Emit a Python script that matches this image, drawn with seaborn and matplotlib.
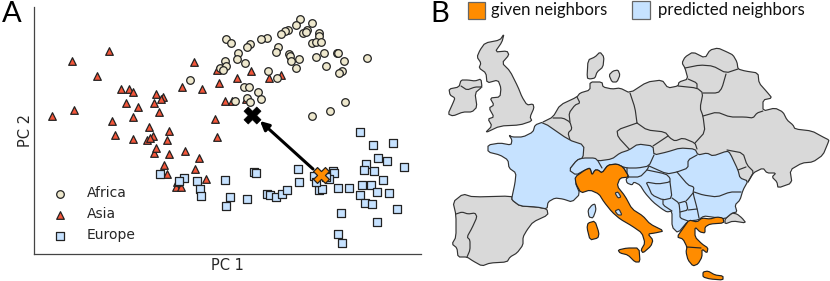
import numpy as np
import pandas as pd
import matplotlib.pyplot as plt
from matplotlib.patches import Rectangle
import seaborn as sns

# --- data, in image pixels (y goes down) ---
africa_x = [190, 226, 231, 300, 312, 296, 288, 285, 281, 303, 307, 306, 319, 319, 312, 316, 321, 267, 261, 250, 247,
            278, 276, 238, 237, 225, 245, 289, 290, 291, 299, 296, 316, 324, 337, 338, 344, 367, 326, 342, 339, 268,
            277, 220, 226, 223, 244, 249, 258, 261, 235, 247, 250, 345, 330, 312]
africa_y = [80, 39, 43, 19, 23, 25, 30, 31, 34, 33, 30, 32, 33, 36, 43, 42, 42, 38, 39, 44, 47,
            47, 52, 53, 59, 61, 63, 54, 56, 61, 59, 68, 57, 53, 53, 53, 61, 58, 66, 71, 73, 71,
            78, 68, 66, 70, 87, 87, 92, 99, 101, 98, 102, 102, 111, 116]

asia_x = [109, 72, 194, 97, 182, 202, 121, 129, 133, 156, 163, 161, 126, 154, 138, 159, 74, 52, 133, 112, 149, 169,
          115, 133, 147, 153, 150, 167, 185, 154, 156, 169, 199, 164, 195, 167, 206, 176, 181, 177,
          217, 251, 237, 219, 269, 281, 225, 232, 246, 215, 217]
asia_y = [51, 61, 62, 76, 87, 89, 89, 89, 92, 94, 97, 99, 103, 103, 107, 112, 110, 116, 117, 121, 127, 131,
          135, 139, 140, 136, 138, 140, 151, 153, 148, 154, 158, 165, 169, 174, 179, 187, 187, 182,
          70, 71, 78, 83, 78, 75, 101, 101, 99, 119, 137]

europe_x = [360, 373, 393, 378, 387, 366, 364, 374, 404, 383, 362, 371, 377, 389, 360, 365, 372, 397, 341, 377, 338,
            342, 338, 349, 319, 322, 333, 334, 329, 326, 314, 316, 298, 299, 254, 256, 225, 230, 226, 247, 267, 270,
            276, 282, 287, 160, 184, 179, 197, 200, 201]
europe_y = [132, 145, 143, 158, 161, 164, 170, 171, 167, 180, 185, 185, 192, 193, 195, 203, 204, 209, 213, 222, 234,
            243, 188, 188, 190, 189, 171, 173, 179, 177, 176, 182, 169, 182, 172, 173, 180, 197, 206, 199, 194, 195,
            197, 194, 190, 174, 178, 181, 181, 189, 196]

query_x, query_y = [321], [175]
pred_x, pred_y = [252], [115]

# --- map outlines, same pixels ---
uk = [(504, 34), (500, 40), (485, 43), (480, 50), (477, 57), (481, 63), (479, 68), (486, 73), (487, 83), (498, 80),
      (501, 88), (500, 97), (490, 98), (494, 105), (489, 108), (494, 117), (488, 119), (492, 126), (485, 133),
      (500, 126), (520, 125), (532, 121), (530, 117), (534, 108), (533, 104), (527, 105), (522, 97), (518, 87),
      (510, 71), (502, 63), (509, 55), (507, 51), (495, 52), (502, 42)]
ireland = [(449, 89), (459, 87), (461, 80), (468, 80), (475, 81), (481, 79), (482, 87), (475, 93), (477, 107),
           (472, 112), (463, 112), (453, 116), (448, 114), (453, 103), (455, 98), (450, 95)]
n_ireland = [(461, 86), (467, 90), (475, 87), (482, 87)]
denmark = [(587, 78), (588, 60), (595, 57), (600, 52), (604, 57), (603, 67), (597, 72), (595, 78), (590, 79)]
zealand = [(609, 75), (613, 71), (618, 70), (620, 75), (617, 82), (612, 82)]
iberia = [(453, 202), (463, 194), (473, 197), (512, 196), (512, 200), (520, 206), (537, 207), (547, 209), (548, 215),
          (533, 222), (527, 230), (523, 237), (523, 245), (517, 253), (510, 257), (507, 262), (490, 263), (482, 266),
          (473, 261), (467, 257), (458, 257), (457, 248), (452, 244), (456, 237), (456, 215)]
portugal_border = [(456, 214), (462, 212), (468, 214), (475, 213), (477, 217), (472, 228), (467, 237), (470, 240),
                   (470, 250), (467, 257)]
north_coast = [(543, 122), (553, 117), (560, 105), (577, 97), (580, 93), (590, 90), (590, 82), (602, 82), (603, 87),
               (612, 89), (620, 88), (630, 93), (647, 82), (662, 80), (668, 88), (678, 86), (679, 82), (688, 79),
               (685, 68), (682, 63), (685, 57), (693, 52), (705, 58), (710, 50), (718, 48), (727, 52), (733, 55),
               (737, 62), (738, 69), (745, 71), (758, 73), (759, 83), (767, 92), (772, 98), (763, 100), (763, 111),
               (775, 108), (783, 112), (787, 120), (793, 125), (795, 129), (812, 131), (823, 137), (829, 140),
               (828, 143), (823, 155), (813, 162), (802, 163), (790, 170), (792, 183), (778, 188), (777, 182),
               (772, 177), (776, 173), (767, 173), (763, 168), (753, 173), (748, 182)]
# where the grey fill closes, all of it under the blue countries
land_closure = [(700, 175), (640, 165), (600, 165), (575, 165), (570, 145)]
thrace = [(725, 219), (732, 213), (737, 214), (742, 218), (746, 223), (733, 221), (725, 224)]
grey_borders = [
    [(553, 118), (563, 118), (570, 122), (572, 129), (568, 133), (570, 140)],  # Belgium
    [(577, 97), (580, 103), (575, 105), (569, 113), (570, 122)],  # Netherlands
    [(630, 93), (635, 108), (637, 123)],
    [(637, 123), (617, 130), (618, 137), (630, 150)],
    [(637, 123), (647, 130), (665, 132), (670, 138), (675, 141), (683, 138), (695, 143), (697, 149)],
    [(668, 136), (653, 146)],
    [(695, 143), (705, 132), (703, 116), (700, 108), (703, 93), (697, 88), (678, 86)],
    [(703, 116), (717, 112), (730, 117), (745, 117), (753, 118), (757, 113), (763, 111)],
    [(685, 68), (700, 65), (713, 66), (726, 73), (738, 69)],
    [(688, 79), (697, 83), (697, 88)],
    [(726, 74), (722, 88), (718, 93), (703, 93)],
    [(727, 150), (743, 153), (747, 165), (754, 172), (748, 182)],
    [(746, 167), (738, 170)],
]
france = [(543, 122), (535, 125), (533, 132), (523, 137), (512, 137), (509, 135), (512, 140), (511, 145), (500, 143),
          (488, 145), (488, 152), (500, 155), (508, 160), (509, 168), (516, 173), (515, 183), (512, 197), (512, 200),
          (520, 206), (537, 207), (547, 209), (548, 202), (555, 198), (563, 199), (572, 202), (580, 194), (575, 182),
          (583, 173), (569, 170), (577, 160), (583, 158), (584, 145), (569, 140)]
central = [(569, 170), (577, 160), (583, 158), (595, 158), (598, 161), (612, 159), (620, 153), (629, 150), (638, 144),
           (653, 146), (654, 155), (667, 152), (680, 148), (695, 149), (698, 155), (707, 153), (713, 156), (727, 151),
           (730, 153), (738, 170), (740, 178), (748, 181), (743, 190), (740, 200), (735, 205), (737, 212), (732, 213),
           (725, 219), (712, 217), (704, 216), (698, 220), (688, 221), (678, 233), (672, 227), (672, 211), (667, 212),
           (662, 209), (653, 202), (645, 193), (640, 185), (634, 182), (632, 185), (627, 183), (626, 179), (629, 177),
           (623, 167), (617, 164), (608, 165), (602, 173), (598, 170), (595, 170), (592, 175), (590, 168), (585, 170),
           (576, 175)]
corsica = [(592, 205), (595, 204), (596, 210), (593, 218), (589, 217), (588, 210)]
san_marino = [(615, 193), (618, 192), (621, 197), (618, 198)]
vatican = [(615, 211), (619, 209), (622, 215), (618, 215)]
blue_borders = [
    [(598, 161), (602, 168)],
    [(620, 166), (627, 168), (638, 168), (649, 166), (654, 155)],
    [(627, 168), (627, 177), (640, 177), (647, 170), (649, 166)],
    [(649, 166), (667, 174), (677, 172), (688, 168), (688, 160), (697, 155)],
    [(647, 170), (666, 174), (670, 178), (670, 182), (658, 184), (646, 182), (649, 188), (652, 195), (663, 200),
     (672, 198), (670, 182)],
    [(677, 172), (688, 185), (694, 187), (693, 193), (697, 208), (699, 218)],
    [(663, 200), (663, 205), (672, 211)],
    [(672, 198), (679, 203), (680, 212), (680, 218), (688, 221)],
    [(679, 203), (686, 201), (688, 210), (680, 212)],
    [(688, 210), (697, 209)],
    [(686, 201), (688, 199), (693, 193)],
    [(694, 192), (703, 195), (717, 197), (730, 192), (741, 192)],
]
italy = [(575, 177), (585, 170), (590, 168), (592, 175), (595, 170), (598, 170), (602, 173), (608, 165), (617, 164),
         (623, 167), (629, 177), (620, 178), (617, 186), (625, 196), (632, 209), (643, 216), (650, 224), (664, 231),
         (655, 233), (648, 234), (653, 240), (651, 246), (643, 253), (641, 250), (645, 243), (642, 233), (632, 226),
         (620, 219), (612, 212), (604, 202), (599, 194), (590, 190), (581, 193), (576, 184)]
sicily = [(618, 250), (627, 248), (639, 248), (640, 262), (635, 262), (628, 255), (620, 253)]
sardinia = [(588, 223), (595, 221), (599, 233), (598, 238), (590, 240), (587, 228)]
greece = [(677, 237), (684, 227), (689, 220), (697, 222), (702, 218), (710, 219), (717, 217), (723, 218), (724, 223),
          (710, 224), (705, 227), (705, 233), (700, 232), (695, 227), (695, 237), (702, 244), (708, 248), (707, 253),
          (702, 249), (702, 257), (698, 264), (693, 266), (688, 260), (686, 252), (687, 247), (683, 239)]
isthmus = [(687, 247), (701, 248)]
crete = [(703, 272), (708, 271), (715, 275), (723, 276), (723, 280), (710, 279), (703, 277)]

grey_shapes = [uk, ireland, denmark, zealand, iberia, thrace]
blue_shapes = [france, central, corsica]
orange_shapes = [italy, sicily, sardinia, greece, crete]
small_blue = [san_marino, vatican]

# --- colors ---
c_circle = "#EEE8CD"
c_tri = "#F4563A"
c_square = "#C6E2FF"
c_orange = "#FF8C00"
c_grey = "#D9D9D9"
c_edge = "#333333"


def soften(points, closed=True, cut=0.18):
    # one pass of corner cutting, so the traced outlines are not so angular
    pts = np.array(points, dtype=float)
    nxt = np.roll(pts, -1, axis=0)
    a = pts * (1 - cut) + nxt * cut
    b = pts * cut + nxt * (1 - cut)
    out = np.empty((2 * len(pts), 2))
    out[0::2] = a
    out[1::2] = b
    if not closed:
        out = np.vstack([pts[0], out[:-2], pts[-1]])
    return out[:, 0], out[:, 1]


sns.set_style("white")
fig = plt.figure(figsize=(8.3, 2.81), dpi=100)

# panel A, axes limits are the image pixels of the spines
ax = fig.add_axes([34 / 830, 1 - 254 / 281, (421 - 34) / 830, (254 - 7) / 281])
kw = dict(edgecolor="#222222", linewidth=0.9, ax=ax, zorder=3, clip_on=False)
sns.scatterplot(x=asia_x, y=asia_y, marker="^", s=30, color=c_tri, label="Asia", **kw)
sns.scatterplot(x=africa_x, y=africa_y, marker="o", s=30, color=c_circle, label="Africa", **kw)
sns.scatterplot(x=europe_x, y=europe_y, marker="s", s=28, color=c_square, label="Europe", **kw)
ax.set_xlim(34, 421)
ax.set_ylim(254, 7)
ax.set_xticks([])
ax.set_yticks([])
ax.set_xlabel("PC 1", fontsize=10.5, labelpad=3)
ax.set_ylabel("PC 2", fontsize=10.5, labelpad=1)
ax.spines[["top", "right"]].set_visible(False)
ax.spines[["left", "bottom"]].set_color("#444444")
ax.spines[["left", "bottom"]].set_linewidth(0.9)

ax.annotate("", xy=(pred_x[0] + 8, pred_y[0] + 6), xytext=(query_x[0] - 8, query_y[0] - 6), zorder=4,
            arrowprops=dict(arrowstyle="-|>", color="black", lw=2.2, mutation_scale=13, shrinkA=0, shrinkB=0))
sns.scatterplot(x=pred_x, y=pred_y, marker="X", s=150, color="black", edgecolor="black", linewidth=0.5, ax=ax, zorder=5)
sns.scatterplot(x=query_x, y=query_y, marker="X", s=130, color=c_orange, edgecolor="#222222", linewidth=0.9, ax=ax,
                zorder=5)

handles, labels = ax.get_legend_handles_labels()
order = [labels.index(k) for k in ["Africa", "Asia", "Europe"]]
ax.legend([handles[i] for i in order], [labels[i] for i in order], frameon=False, fontsize=10, loc="lower left",
          bbox_to_anchor=(0.0, -0.004), handletextpad=0.9, labelspacing=0.51)

# panel B and letters share one overlay axes in pixels
ov = fig.add_axes([0, 0, 1, 1])
ov.set_xlim(0, 830)
ov.set_ylim(281, 0)
ov.axis("off")
ov.patch.set_alpha(0)

lw = 0.85
ov.fill(*zip(*(north_coast + land_closure)), color=c_grey, lw=0, zorder=1)
ov.plot(*soften(north_coast, closed=False), color=c_edge, lw=lw, zorder=2)
for shape in grey_shapes:
    ov.fill(*soften(shape), facecolor=c_grey, edgecolor=c_edge, lw=lw, zorder=2)
for line in [n_ireland, portugal_border] + grey_borders:
    ov.plot(*soften(line, closed=False), color=c_edge, lw=lw, zorder=3)
for shape in blue_shapes:
    ov.fill(*soften(shape), facecolor=c_square, edgecolor=c_edge, lw=lw, zorder=4)
for line in blue_borders:
    ov.plot(*soften(line, closed=False), color=c_edge, lw=lw, zorder=5)
for shape in orange_shapes:
    ov.fill(*soften(shape), facecolor=c_orange, edgecolor="#222222", lw=lw, zorder=6)
ov.plot(*zip(*isthmus), color="#222222", lw=lw, zorder=7)
for shape in small_blue:
    ov.fill(*soften(shape), facecolor=c_square, edgecolor=c_edge, lw=lw, zorder=7)

ov.add_patch(Rectangle((468, 2), 17, 17, facecolor=c_orange, edgecolor="#666666", lw=0.9))
ov.add_patch(Rectangle((632, 1), 18, 18, facecolor=c_square, edgecolor="#666666", lw=0.9))
ov.text(491, 10, "given neighbors", family="Lato", fontsize=12.1, va="center", ha="left", color="#111111")
ov.text(658, 10, "predicted neighbors", family="Lato", fontsize=12.1, va="center", ha="left", color="#111111")
ov.text(2, 14, "A", family="Lato", fontsize=21, va="center", ha="left", color="black")
ov.text(430, 14, "B", family="Lato", fontsize=21, va="center", ha="left", color="black")

fig.savefig("out.png", dpi=100)
